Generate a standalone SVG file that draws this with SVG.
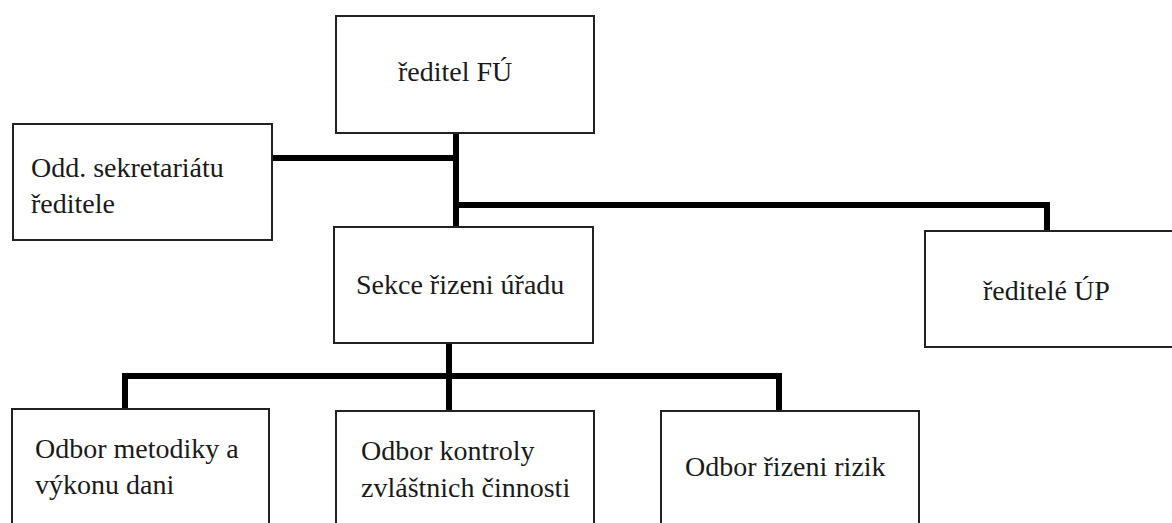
<svg xmlns="http://www.w3.org/2000/svg" width="1172" height="523" viewBox="0 0 1172 523">
  <style>
    .box { fill: #ffffff; stroke: #222222; stroke-width: 2; }
    .conn { fill: none; stroke: #000000; stroke-width: 6; stroke-linejoin: miter; stroke-linecap: butt; }
  </style>
  <rect width="1172" height="523" fill="#ffffff"/>
  <g id="connectors">
    <line class="conn" x1="456" y1="133" x2="456" y2="231"/>
    <line class="conn" x1="272" y1="158" x2="459" y2="158"/>
    <polyline class="conn" points="456,205 1047,205 1047,231"/>
    <line class="conn" x1="449" y1="343" x2="449" y2="411"/>
    <polyline class="conn" points="125,409 125,376 779,376 779,411"/>
  </g>
  <g font-family="Liberation Serif" font-size="28" fill="#1a1a1a">
  <g id="reditel-fu">
    <rect class="box" x="336" y="16" width="258" height="117"/>
    <text x="398" y="81">ředitel FÚ</text>
  </g>
  <g id="odd-sekretariatu">
    <rect class="box" x="13" y="124" width="259" height="116"/>
    <text x="31" y="177">Odd. sekretariátu</text>
    <text x="31" y="213">ředitele</text>
  </g>
  <g id="sekce-rizeni">
    <rect class="box" x="334" y="227" width="259" height="116"/>
    <text x="356" y="294">Sekce řizeni úřadu</text>
  </g>
  <g id="reditele-up">
    <rect class="box" x="925" y="231" width="260" height="116"/>
    <text x="983" y="300">ředitelé ÚP</text>
  </g>
  <g id="odbor-metodiky">
    <rect class="box" x="12" y="409" width="257" height="130"/>
    <text x="35" y="458">Odbor metodiky a</text>
    <text x="35" y="494">výkonu dani</text>
  </g>
  <g id="odbor-kontroly">
    <rect class="box" x="336" y="411" width="258" height="130"/>
    <text x="361" y="460">Odbor kontroly</text>
    <text x="361" y="497">zvláštnich činnosti</text>
  </g>
  <g id="odbor-rizik">
    <rect class="box" x="661" y="411" width="258" height="130"/>
    <text x="685" y="476">Odbor řizeni rizik</text>
  </g>
  </g>
</svg>
